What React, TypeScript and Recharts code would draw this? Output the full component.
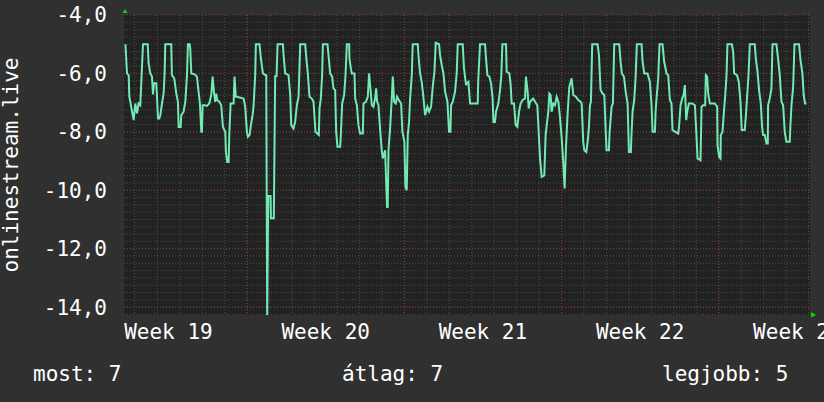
import React from 'react';
import { LineChart, Line, XAxis, YAxis, CartesianGrid, ReferenceDot } from 'recharts';

// [hour since left edge, value]
const segA: [number, number][] = [
  [1.5,-5.0],[3.2,-6.0],[5.0,-6.06],[5.7,-6.8],[10.3,-7.6],[12.1,-7.03],[13.9,-7.37],[15.6,-7.03],[17.4,-7.09],[20.3,-5.0],
  [25.3,-5.0],[26.3,-5.66],[28.1,-6.0],[29.9,-6.11],[31.0,-6.72],[32.0,-6.34],[34.5,-6.34],[35.2,-6.74],[36.3,-7.54],[37.7,-7.54],
  [38.8,-7.43],[40.6,-7.03],[42.3,-6.69],[43.4,-6.0],[44.1,-5.0],[50.5,-5.0],[51.2,-6.06],[53.7,-6.17],[55.9,-6.69],[57.6,-6.97],
  [58.4,-7.83],[60.5,-7.83],[61.2,-7.43],[63.7,-7.31],[65.5,-6.97],[67.3,-6.06],[68.3,-5.0],[70.1,-5.0],[70.8,-5.14],[71.9,-6.0],
  [75.4,-6.03],[77.9,-6.11],[79.7,-6.63],[81.1,-7.03],[82.6,-8.0],[83.3,-8.0],[84.0,-7.09],[86.1,-7.09],[88.6,-7.11],[91.1,-7.03],
  [93.2,-6.74],[94.7,-6.11],[96.1,-6.63],[97.5,-6.97],[98.6,-6.69],[99.6,-6.91],[101.8,-6.97],[103.9,-7.09],[105.7,-7.83],[108.2,-8.0],
  [108.9,-8.69],[110.3,-9.03],[111.8,-9.03],[112.5,-8.11],[113.9,-7.03],[117.1,-7.03],[118.1,-6.11],[119.5,-6.8],
];
const segB: [number, number][] = [
  [120.6,-6.8],[127.8,-6.86],[129.5,-7.14],[131.3,-8.0],[132.4,-8.17],[134.2,-8.11],[135.6,-7.77],[137.4,-7.43],[138.4,-7.14],[140.2,-6.06],
  [140.9,-5.0],[144.8,-5.0],[146.3,-5.49],[148.4,-6.0],[151.2,-6.06],[152.0,-6.06],[153.0,-14.27],[154.1,-10.2],[156.6,-10.2],[157.0,-10.96],
  [160.1,-10.96],[161.5,-6.1],[163.0,-6.1],[164.1,-5.0],[169.8,-5.0],[170.5,-5.37],[172.2,-6.0],[175.8,-6.06],[177.6,-6.74],[178.7,-7.77],
  [181.1,-7.89],[182.9,-7.66],[184.7,-7.09],[186.5,-6.8],[188.3,-5.0],[193.6,-5.0],[194.7,-5.43],[196.4,-6.0],[198.2,-6.8],[200.7,-6.86],
  [202.5,-6.97],[204.6,-8.0],[208.2,-8.11],[208.9,-7.2],[210.3,-6.86],[211.7,-6.06],[212.5,-5.0],[217.4,-5.0],[218.5,-5.37],[220.3,-6.0],
  [222.4,-6.11],[223.8,-6.51],[225.6,-6.57],[226.7,-8.0],[228.1,-8.51],[231.0,-8.51],[231.7,-8.11],[233.1,-7.03],[235.2,-6.74],[236.7,-6.06],
  [238.1,-5.0],[240.6,-5.0],[240.9,-5.49],[242.4,-5.83],
];
const segC: [number, number][] = [
  [243.4,-6.0],[246.3,-6.0],[247.0,-6.86],[248.8,-7.09],[250.5,-7.77],[252.3,-8.06],[255.2,-8.06],[255.9,-7.03],[258.4,-6.97],[260.5,-6.8],
  [261.9,-6.0],[263.3,-6.51],[264.8,-7.09],[266.5,-7.14],[268.3,-6.86],[269.4,-6.51],[270.5,-6.97],[271.9,-7.09],[273.7,-7.94],[275.4,-8.63],
  [276.5,-8.91],[279.0,-8.63],[280.1,-9.71],[281.1,-10.57],[281.8,-10.57],[282.6,-8.63],[284.3,-7.89],[286.1,-6.86],[287.2,-6.11],[288.6,-6.97],
  [290.4,-7.03],[291.8,-6.8],[293.6,-6.91],[296.1,-7.03],[297.5,-8.0],[299.6,-8.34],[300.7,-9.89],[302.1,-10.0],[303.2,-8.11],[304.6,-7.66],
  [305.7,-6.86],[307.5,-6.06],[308.5,-5.0],[313.9,-5.0],[314.6,-5.37],[316.4,-6.0],[318.1,-6.29],[319.9,-6.8],[321.7,-7.43],[324.2,-7.14],
  [326.0,-7.31],[328.1,-7.14],[329.9,-6.46],[331.7,-5.94],[333.1,-4.95],[336.7,-5.0],[337.7,-5.37],[339.5,-5.71],[341.3,-6.0],[343.1,-6.63],
  [345.6,-6.97],[347.3,-8.0],[348.8,-8.0],[349.5,-7.09],[351.3,-6.97],[353.7,-6.63],[355.5,-6.0],[356.6,-5.0],[361.9,-5.0],[363.3,-5.83],
  [365.5,-6.4],
];
const segD: [number, number][] = [
  [366.2,-6.34],[368.0,-6.29],[369.8,-7.03],[377.9,-7.03],[378.6,-6.17],[380.4,-5.0],[385.8,-5.0],[386.8,-5.49],[388.3,-6.06],[390.4,-6.11],
  [392.2,-6.34],[393.9,-6.86],[394.7,-7.66],[396.4,-7.66],[397.5,-7.31],[400.0,-7.03],[401.8,-6.57],[403.2,-6.06],[404.3,-5.0],[408.2,-5.0],
  [408.9,-5.94],[411.7,-6.0],[413.2,-6.4],[414.2,-7.03],[416.7,-7.03],[418.5,-7.77],[420.3,-7.83],[422.1,-7.31],[423.8,-7.03],[426.0,-6.91],
  [428.5,-6.86],[429.5,-6.11],[431.3,-6.63],[432.4,-7.2],[433.8,-6.97],[435.6,-6.91],[437.4,-6.86],[439.2,-6.97],[441.6,-7.09],[443.1,-8.0],
  [444.5,-8.91],[446.3,-9.54],[449.1,-9.49],[450.5,-8.11],[451.9,-7.71],[453.4,-7.31],[454.5,-6.69],[455.9,-6.74],[456.9,-7.31],[458.7,-7.03],
  [460.5,-7.09],[462.3,-6.8],[464.1,-6.97],[465.8,-7.49],[467.6,-8.17],[469.4,-9.09],[470.8,-9.94],[472.2,-8.57],[474.0,-7.37],[475.8,-6.46],
  [478.3,-6.17],[480.1,-6.74],[482.9,-6.8],[485.4,-6.91],[487.9,-6.97],
];
const segE: [number, number][] = [
  [489.0,-7.03],[490.7,-8.34],[491.8,-8.63],[494.0,-8.69],[495.4,-8.34],[496.8,-7.83],[497.9,-7.09],[498.9,-6.97],[500.3,-5.0],[506.0,-5.0],
  [507.5,-5.37],[509.2,-6.57],[511.4,-6.69],[513.2,-6.74],[514.6,-7.89],[515.6,-8.63],[518.1,-8.63],[518.9,-8.0],[521.0,-7.14],[522.4,-7.03],
  [523.8,-5.0],[529.2,-5.0],[530.6,-5.6],[532.0,-6.0],[534.2,-6.11],[536.3,-6.69],[538.1,-7.03],[539.5,-8.69],[541.6,-8.69],[542.0,-8.29],
  [543.4,-7.31],[545.2,-6.91],[546.6,-6.17],[548.0,-5.0],[553.0,-5.0],[554.1,-5.6],[555.9,-6.0],[559.4,-6.0],[561.9,-6.29],[563.7,-7.09],
  [564.8,-8.0],[567.3,-8.0],[568.0,-7.31],[569.0,-6.86],[570.8,-6.17],[572.2,-5.0],[575.4,-5.0],[577.2,-5.6],[579.7,-6.0],[581.5,-6.06],
  [583.3,-6.91],[585.0,-7.03],[586.1,-7.94],[592.2,-8.06],[593.2,-7.77],[594.7,-7.09],[596.4,-6.86],[597.9,-6.74],[599.3,-6.4],[600.7,-7.6],
  [602.1,-7.26],[603.6,-7.03],[607.1,-7.03],[610.0,-7.09],
];
const segF: [number, number][] = [
  [611.5,-8.0],[612.8,-8.91],[616.0,-8.97],[617.1,-7.14],[618.8,-7.09],[621.0,-7.09],[621.7,-6.06],[623.1,-6.11],[624.2,-6.69],[626.0,-7.03],
  [631.3,-7.03],[633.8,-7.14],[634.2,-8.46],[635.9,-8.86],[637.4,-8.91],[637.7,-8.11],[639.5,-8.0],[640.9,-7.37],[642.3,-6.8],[643.8,-6.06],
  [644.8,-5.0],[649.5,-5.0],[650.9,-5.26],[652.0,-6.0],[655.1,-6.06],[656.9,-6.29],[658.7,-6.97],[660.1,-7.94],[663.3,-7.94],[664.4,-7.49],
  [665.8,-6.8],[667.2,-6.11],[668.7,-5.0],[674.0,-5.0],[675.1,-5.49],[676.9,-5.94],[678.6,-6.57],[680.4,-7.03],[681.8,-7.83],[682.9,-8.11],
  [684.7,-8.11],[686.5,-8.4],[687.9,-8.4],[688.2,-7.09],[690.0,-6.86],[691.8,-6.51],[692.9,-5.0],[697.1,-5.0],[698.9,-5.49],[700.7,-6.06],
  [702.5,-6.97],[704.3,-7.09],[706.0,-8.0],[707.8,-8.34],[711.4,-8.34],[712.1,-7.77],[713.2,-7.09],[715.0,-6.46],[716.4,-5.0],[721.3,-5.0],
  [722.8,-5.54],[724.9,-6.0],[726.3,-6.74],[727.7,-7.03],[729.2,-7.03],
];

const yTicks = [-14, -12, -10, -8, -6, -4];
const weekTicks = [47.5, 215.5, 383.5, 551.5, 719.5];
const weekLabels = ['Week 19', 'Week 20', 'Week 21', 'Week 22', 'Week 23'];
const weekLines = [131.5, 299.5, 467.5, 635.5];
const legendItems = [
  { label: 'most', value: '7' },
  { label: 'átlag', value: '7' },
  { label: 'legjobb', value: '5' },
];
const yTitle = 'onlinestream.live';

const X_MAX = 733;
const Y_MIN = -14.27;
const Y_MAX = -4;

const data = [...segA, ...segB, ...segC, ...segD, ...segE, ...segF].map(([h, v]) => ({ h, v }));

const dayLines: number[] = [];
for (let d = 11.5; d < X_MAX; d += 24) dayLines.push(d);
const minorY: number[] = [];
for (let y = -14.25; y <= -4.001; y += 0.25) minorY.push(Number(y.toFixed(2)));

const FONT = "'DejaVu Sans Mono', monospace";
const LEGEND_X = [33, 342, 662];

export default function App() {
  return (
    <div style={{ position: 'absolute', left: 0, top: 0, width: 824, height: 402, background: '#303030', overflow: 'hidden' }}>
      <LineChart width={824} height={402} data={data} margin={{ top: 15, right: 14, bottom: 57, left: 0 }}>
        <CartesianGrid fill="#222222" stroke="#4c4c4c" strokeDasharray="1 2" horizontalValues={minorY} verticalValues={dayLines} />
        <CartesianGrid fill="none" stroke="#8c3a3a" strokeDasharray="1 2" horizontalValues={yTicks} verticalValues={weekLines} />
        <XAxis
          type="number"
          dataKey="h"
          domain={[0, X_MAX]}
          ticks={weekTicks}
          interval={0}
          height={30}
          axisLine={false}
          tickLine={false}
          tickSize={0}
          tickMargin={9}
          allowDataOverflow
          tickFormatter={(v: number) => weekLabels[weekTicks.indexOf(v)] ?? ''}
          tick={{ fill: '#ffffff', fontSize: 21, fontFamily: FONT }}
        />
        <YAxis
          type="number"
          domain={[Y_MIN, Y_MAX]}
          ticks={yTicks}
          interval={0}
          width={124}
          axisLine={false}
          tickLine={false}
          tickSize={0}
          tickMargin={17}
          allowDataOverflow
          tickFormatter={(v: number) => v.toFixed(1).replace('.', ',')}
          tick={{ fill: '#ffffff', fontSize: 21, fontFamily: FONT }}
          label={{
            content: (props: any) => {
              const vb = props.viewBox || { x: 0, y: 15, width: 124, height: 300 };
              const cx = vb.x + 18;
              const cy = vb.y + vb.height / 2;
              return (
                <text x={cx} y={cy} transform={`rotate(-90 ${cx} ${cy})`} textAnchor="middle" fill="#ffffff" fontSize={21} fontFamily={FONT}>
                  {yTitle}
                </text>
              );
            },
          }}
        />
        <Line type="linear" dataKey="v" stroke="#72eab4" strokeWidth={2} dot={false} isAnimationActive={false} />
        <ReferenceDot
          x={0}
          y={Y_MAX}
          r={0}
          ifOverflow="visible"
          shape={(p: any) => (
            <polygon points={`${p.cx + 1},${p.cy - 6} ${p.cx - 1.5},${p.cy - 2} ${p.cx + 3.5},${p.cy - 2}`} fill="#00dd00" />
          )}
        />
        <ReferenceDot
          x={X_MAX}
          y={Y_MIN}
          r={0}
          ifOverflow="visible"
          shape={(p: any) => (
            <polygon points={`${p.cx + 6},${p.cy} ${p.cx + 1},${p.cy - 3} ${p.cx + 1},${p.cy + 2.5}`} fill="#00dd00" />
          )}
        />
      </LineChart>
      <svg width={824} height={402} style={{ position: 'absolute', left: 0, top: 0, pointerEvents: 'none' }}>
        {legendItems.map((it, i) => (
          <text key={it.label} x={LEGEND_X[i]} y={381} fill="#ffffff" fontSize={21} fontFamily={FONT}>
            {`${it.label}: ${it.value}`}
          </text>
        ))}
      </svg>
    </div>
  );
}
